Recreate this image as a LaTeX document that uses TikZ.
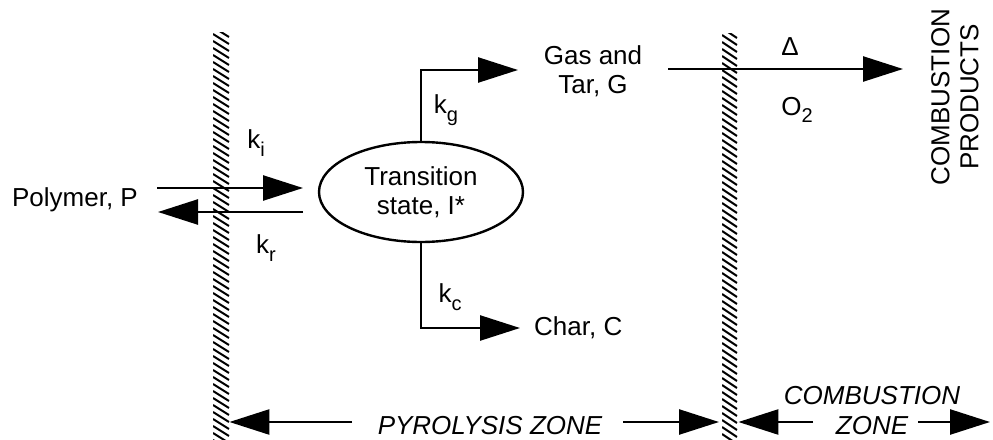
\documentclass[tikz,border=0pt]{standalone}
\usepackage{fontspec}
\setmainfont{Liberation Sans}
\usetikzlibrary{arrows.meta,shapes.geometric,calc}
\newcommand{\mysub}[1]{\raisebox{-0.3em}{\fontsize{20}{20}\selectfont #1}}
\tikzset{
  txt/.style={font=\fontsize{26}{29}\selectfont, inner sep=2pt, align=center},
  itx/.style={font=\fontsize{26}{30}\selectfont\itshape, inner sep=2pt, align=center},
  arr/.style={line width=2.5pt, -{Triangle[length=40pt,width=25pt]}},
  wallbox/.style={minimum width=16pt, inner sep=0pt, draw=none, anchor=north west},
  hatch/.style={line width=2pt},
}
\begin{document}
\begin{tikzpicture}[x=1pt,y=-1pt]
\fill[white] (0,0) rectangle (993,439);
\useasboundingbox (0,0) rectangle (993,439);

% walls
\node[wallbox, minimum height=407pt] (WL) at (213,32) {};
\node[wallbox, minimum height=406pt, minimum width=15pt] (WR) at (722,33) {};
\begin{scope}
  \clip (WL.south west) rectangle (WL.north east);
  \foreach \k in {0,...,62} \draw[hatch] ($(WL.north west)+(0,{\k*7-12})$) -- ++(16,10);
\end{scope}
\begin{scope}
  \clip (WR.south west) rectangle (WR.north east);
  \foreach \k in {0,...,62} \draw[hatch] ($(WR.north west)+(0,{\k*7-12})$) -- ++(15,10);
\end{scope}

% nodes
\node[txt] (P) at (75,200) {Polymer, P};
\node[txt, draw, ellipse, line width=2.4pt, minimum width=204pt, minimum height=100pt, inner sep=0pt] (I) at (421,192) {Transition\\state, I*};
\node[txt] (G) at (593,71) {Gas and\\Tar, G};
\node[txt, anchor=west] (C) at (532,328) {Char, C};
\node[txt, rotate=90] (CP) at (955,97) {COMBUSTION\\PRODUCTS};

% labels
\node[txt] (ki) at (256,143) {k\mysub{i}};
\node[txt] (kr) at (266,248) {k\mysub{r}};
\node[txt] (kg) at (446,110) {k\mysub{g}};
\node[txt] (kc) at (450,297) {k\mysub{c}};
\node[txt] (dl) at (790,47) {Δ};
\node[txt] (o2) at (797,110) {O\mysub{2}};

% connectors
\coordinate (pa) at (157,188);
\coordinate (pb) at (303,188);
\coordinate (pc) at (303,212);
\coordinate (pd) at (158,212);
\draw[arr] (pa) -- (pb);
\draw[arr] (pc) -- (pd);
\coordinate (gtip) at (518,70);
\coordinate (ctip) at (520,328);
\draw[arr] (I.north) |- (gtip);
\draw[arr] (I.south) |- (ctip);
\coordinate (gs) at (668,69);
\coordinate (gt) at (903,69);
\draw[arr] (gs) -- (gt);

% zones
\node[itx] (PZ) at (490,426) {PYROLYSIS ZONE};
\node[itx] (CZ) at (872,411) {COMBUSTION\\ZONE};
\coordinate (z1) at (352,422);
\coordinate (z2) at (623,422);
\coordinate (z3) at (813,422);
\coordinate (z4) at (918,422);
\coordinate (z5) at (990,422);
\draw[arr] (z1) -- (WL.east |- z1);
\draw[arr] (z2) -- ([xshift=-3pt]WR.west |- z2);
\draw[arr] (z3) -- ([xshift=1pt]WR.east |- z3);
\draw[arr] (z4) -- (z5);
\end{tikzpicture}
\end{document}
